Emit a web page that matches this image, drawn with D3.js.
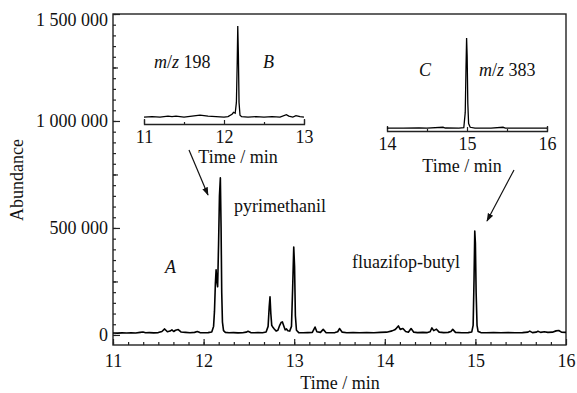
<!DOCTYPE html>
<head>
  <meta charset="utf-8">
  <title>Chromatogram</title>
  <script src="https://cdn.jsdelivr.net/npm/d3@7"></script>
  <style>
    body { margin: 0; background: #fff; }
    text { font-family: "Liberation Serif", "Times New Roman", serif; font-size: 18px; fill: #111; }
  </style>
</head>

<body>
  <script type="text/javascript">
    var WIDTH = 577;
    var HEIGHT = 393;

    //===========data
    // total ion trace A: [time (min), abundance]
    var traceA = [
      [11.00, 9000], [11.05, 8500], [11.10, 9500], [11.15, 9000], [11.20, 10000], [11.25, 9000],
      [11.30, 12000], [11.33, 14000], [11.36, 10000], [11.40, 11000], [11.45, 9500], [11.50, 11000],
      [11.54, 16000], [11.57, 28000], [11.60, 15000], [11.63, 18000], [11.65, 24000], [11.67, 16000],
      [11.69, 22000], [11.72, 25000], [11.75, 14000], [11.80, 12000], [11.85, 10000], [11.90, 12000],
      [11.93, 16000], [11.96, 11000], [12.00, 10000], [12.05, 11000], [12.09, 14000], [12.11, 40000],
      [12.12, 110000], [12.13, 240000], [12.138, 304000], [12.146, 250000], [12.155, 225000],
      [12.165, 420000], [12.175, 650000], [12.185, 734000], [12.193, 500000], [12.200, 200000],
      [12.208, 60000], [12.22, 20000], [12.24, 12000], [12.28, 10000], [12.33, 11000], [12.38, 9500],
      [12.43, 10000], [12.47, 13000], [12.49, 17000], [12.52, 11000], [12.56, 10000], [12.60, 11000],
      [12.65, 10000], [12.69, 14000], [12.712, 40000], [12.724, 130000], [12.733, 178000],
      [12.742, 100000], [12.752, 45000], [12.765, 36000], [12.78, 28000], [12.80, 18000],
      [12.82, 22000], [12.84, 45000], [12.855, 58000], [12.87, 61000], [12.885, 42000], [12.90, 24000],
      [12.915, 28000], [12.93, 20000], [12.95, 18000], [12.97, 40000], [12.983, 220000],
      [12.995, 411000], [13.004, 320000], [13.013, 90000], [13.025, 22000], [13.05, 11000],
      [13.10, 10000], [13.15, 11000], [13.20, 12000], [13.23, 37000], [13.25, 15000], [13.29, 12000],
      [13.32, 26000], [13.35, 11000], [13.40, 10000], [13.45, 11000], [13.48, 15000], [13.50, 30000],
      [13.53, 13000], [13.58, 10000], [13.65, 11000], [13.72, 10000], [13.80, 11500], [13.88, 10500],
      [13.95, 12000], [14.02, 13000], [14.08, 19000], [14.11, 24000], [14.13, 32000], [14.15, 42000],
      [14.17, 26000], [14.20, 30000], [14.23, 16000], [14.26, 13000], [14.29, 30000], [14.32, 13000],
      [14.36, 11000], [14.42, 12000], [14.47, 11000], [14.50, 15000], [14.52, 33000], [14.54, 20000],
      [14.57, 27000], [14.60, 13000], [14.65, 11000], [14.70, 12000], [14.73, 16000], [14.75, 26000],
      [14.78, 12000], [14.85, 10500], [14.92, 11000], [14.96, 14000], [14.975, 45000],
      [14.985, 260000], [14.993, 486000], [15.000, 430000], [15.008, 200000], [15.018, 45000],
      [15.03, 16000], [15.06, 11000], [15.12, 10000], [15.20, 11000], [15.28, 10000], [15.36, 11000],
      [15.44, 10500], [15.52, 11000], [15.58, 13000], [15.60, 18000], [15.63, 11000], [15.67, 13000],
      [15.69, 17000], [15.72, 12000], [15.76, 15000], [15.80, 12000], [15.85, 13000], [15.89, 19000],
      [15.92, 21000], [15.95, 13000], [16.00, 12000]
    ];
    // extracted ion trace B (m/z 198), relative units
    var traceB = [
      [11.00, 7], [11.10, 7.5], [11.20, 7], [11.30, 8], [11.35, 7.5], [11.40, 8], [11.50, 7],
      [11.60, 8], [11.70, 9], [11.75, 8.5], [11.80, 8], [11.90, 7.5], [12.00, 7], [12.05, 7.5],
      [12.10, 10], [12.12, 12], [12.14, 11], [12.155, 22], [12.165, 62], [12.172, 100],
      [12.180, 70], [12.188, 22], [12.20, 9], [12.22, 7.5], [12.30, 7], [12.40, 7.5], [12.50, 7],
      [12.60, 7.5], [12.70, 7], [12.78, 9.5], [12.81, 8], [12.86, 7], [12.90, 8.5], [12.95, 7.5],
      [13.00, 7]
    ];
    // extracted ion trace C (m/z 383), relative units
    var traceC = [
      [14.00, 3], [14.20, 3], [14.40, 3.2], [14.50, 3], [14.70, 4], [14.73, 3.2], [14.90, 3],
      [14.96, 3.5], [14.978, 20], [14.988, 70], [14.995, 100], [15.002, 80], [15.010, 30],
      [15.020, 8], [15.040, 4], [15.10, 3], [15.30, 3], [15.45, 4], [15.48, 3], [15.70, 3],
      [16.00, 3]
    ];

    var yTicks = [0, 500000, 1000000, 1500000];
    var yTickLabels = ["0", "500 000", "1 000 000", "1 500 000"];
    var xTicks = [11, 12, 13, 14, 15, 16];
    var xTickLabels = ["11", "12", "13", "14", "15", "16"];
    var bTicks = [11, 12, 13];
    var cTicks = [14, 15, 16];

    var svg = d3.select("body").append("svg")
                .attr("width", WIDTH)
                .attr("height", HEIGHT);

    //============main scales
    var x = d3.scaleLinear().domain([11, 16]).range([113, 566]);
    var y = d3.scaleLinear().domain([-47000, 1500000]).range([345, 14]);

    var line = d3.line()
                 .x(function(d){ return x(d[0]); })
                 .y(function(d){ return y(d[1]); });

    // minor ticks first, then major ticks with labels
    svg.append("g")
      .attr("transform", "translate(0,345)")
      .call(d3.axisBottom(x).tickValues(d3.range(66, 96).map(function(i){ return i / 6; }))
              .tickSizeInner(-3).tickSizeOuter(0).tickFormat(""))
      .call(function(g){ g.select(".domain").remove(); });

    svg.append("g")
      .attr("transform", "translate(0,345)")
      .call(d3.axisBottom(x).tickValues(xTicks).tickSizeInner(-6).tickSizeOuter(0)
              .tickPadding(9).tickFormat(function(d, i){ return xTickLabels[i]; }))
      .call(function(g){ g.select(".domain").remove(); });

    svg.append("g")
      .attr("transform", "translate(113,0)")
      .call(d3.axisLeft(y).tickValues(d3.range(0, 1500001, 50000))
              .tickSizeInner(-3).tickSizeOuter(0).tickFormat(""))
      .call(function(g){ g.select(".domain").remove(); });

    svg.append("g")
      .attr("transform", "translate(113,0)")
      .call(d3.axisLeft(y).tickValues(d3.range(250000, 1500000, 500000))
              .tickSizeInner(-5).tickSizeOuter(0).tickFormat(""))
      .call(function(g){ g.select(".domain").remove(); });

    var yAx = svg.append("g")
      .attr("transform", "translate(113,0)")
      .call(d3.axisLeft(y).tickValues(yTicks).tickSizeInner(-7).tickSizeOuter(0)
              .tickPadding(5).tickFormat(function(d, i){ return yTickLabels[i]; }))
      .call(function(g){ g.select(".domain").remove(); });
    yAx.selectAll("text").filter(function(d){ return d === 1500000; }).attr("dy", "0.62em");

    svg.selectAll(".tick line").attr("stroke", "#222").attr("stroke-width", 1.2);
    svg.selectAll(".tick text").style("font-family", "'Liberation Serif', serif")
       .style("font-size", "18px").attr("fill", "#111");

    // frame
    svg.append("rect")
      .attr("x", x(11)).attr("y", y(1500000))
      .attr("width", x(16) - x(11)).attr("height", 345 - y(1500000))
      .attr("fill", "none").attr("stroke", "#222").attr("stroke-width", 1.4);

    svg.append("path")
      .datum(traceA)
      .attr("d", line)
      .attr("fill", "none")
      .attr("stroke", "#000")
      .attr("stroke-width", 1.6)
      .attr("stroke-linejoin", "round");

    //============insets
    function inset(data, ticks, x0, x1, yAxis, yTop, labX, labY){
      var sx = d3.scaleLinear().domain([ticks[0], ticks[2]]).range([x0, x1]);
      var sy = d3.scaleLinear().domain([0, 100]).range([yAxis, yTop]);
      var g = svg.append("g");
      var half = (ticks[1] - ticks[0]) / 2;
      g.append("g")
        .attr("transform", "translate(0," + yAxis + ")")
        .call(d3.axisBottom(sx).tickValues([ticks[0] + half, ticks[1] + half])
                .tickSizeInner(-2).tickSizeOuter(0).tickFormat(""))
        .call(function(a){ a.select(".domain").remove(); });
      g.append("g")
        .attr("transform", "translate(0," + yAxis + ")")
        .call(d3.axisBottom(sx).tickValues(ticks).tickSizeInner(-4).tickSizeOuter(-5)
                .tickPadding(6).tickFormat(d3.format("d")));
      g.selectAll("path.domain").attr("stroke", "#222").attr("stroke-width", 1.3);
      g.selectAll(".tick line").attr("stroke", "#222").attr("stroke-width", 1.2);
      g.selectAll(".tick text").style("font-family", "'Liberation Serif', serif")
       .style("font-size", "18px").attr("fill", "#111");
      g.append("path")
        .datum(data)
        .attr("d", d3.line().x(function(d){ return sx(d[0]); }).y(function(d){ return sy(d[1]); }))
        .attr("fill", "none").attr("stroke", "#000").attr("stroke-width", 1.3);
      g.append("text").attr("x", labX).attr("y", labY).attr("text-anchor", "middle").text("Time / min");
    }

    inset(traceB, bTicks, 144, 304, 124, 26, 238, 163);
    inset(traceC, cTicks, 387, 547, 131, 38, 462, 172);

    //============annotations
    function mz(xp, yp, value){
      var t = svg.append("text").attr("x", xp).attr("y", yp);
      t.append("tspan").attr("font-style", "italic").text("m");
      t.append("tspan").text("/");
      t.append("tspan").attr("font-style", "italic").text("z");
      t.append("tspan").text(" " + value);
    }
    mz(154, 68, "198");
    mz(479, 76, "383");

    svg.append("text").attr("x", 263).attr("y", 68).attr("font-style", "italic").text("B");
    svg.append("text").attr("x", 419).attr("y", 76).attr("font-style", "italic").text("C");
    svg.append("text").attr("x", 165).attr("y", 273).attr("font-style", "italic").text("A");
    svg.append("text").attr("x", 234).attr("y", 212).text("pyrimethanil");
    svg.append("text").attr("x", 352).attr("y", 268).text("fluazifop-butyl");

    svg.append("text").attr("x", 340).attr("y", 389).attr("text-anchor", "middle").text("Time / min");
    svg.append("text")
      .attr("transform", "translate(23,180) rotate(-90)")
      .attr("text-anchor", "middle")
      .text("Abundance");

    // arrows
    svg.append("defs").append("marker")
      .attr("id", "head").attr("viewBox", "0 0 10 10")
      .attr("refX", 9).attr("refY", 5)
      .attr("markerWidth", 7).attr("markerHeight", 7)
      .attr("orient", "auto")
      .append("path").attr("d", "M0,1.5 L10,5 L0,8.5 Z").attr("fill", "#111");

    [[189, 150, 208, 195], [514, 170, 487, 221]].forEach(function(a){
      svg.append("line")
        .attr("x1", a[0]).attr("y1", a[1]).attr("x2", a[2]).attr("y2", a[3])
        .attr("stroke", "#111").attr("stroke-width", 1.2)
        .attr("marker-end", "url(#head)");
    });
  </script>
</body>
